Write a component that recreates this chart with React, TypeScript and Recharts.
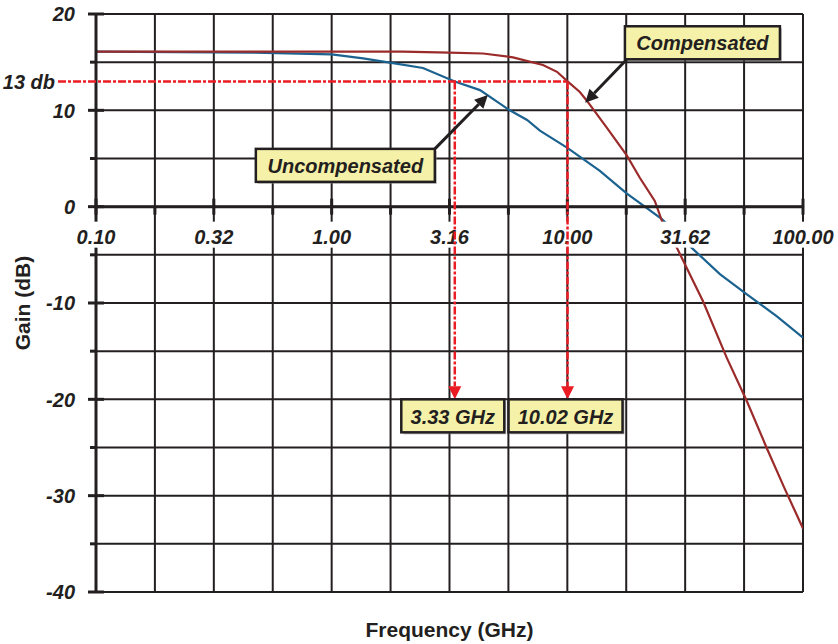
import { LineChart, Line, XAxis, YAxis, CartesianGrid, ReferenceLine, ReferenceDot, Label } from 'recharts'

const INK = '#231f20'
const FONT = '"Liberation Sans", Arial, Helvetica, sans-serif'
const MARK_RED = '#ec1c24'
const BOX_FILL = '#f6f1a8'

// measured gain, frequency in GHz
const compFreq = [0.1, 0.5, 1, 2, 3.16, 4.39, 5.88, 7.88, 9.04, 10.02, 11.3, 12.1, 14.7, 17.9, 20.3, 23.5, 25.4, 29.2, 37.6, 47.5, 57.8, 70.3, 83.7, 100]
const compGain = [16.1, 16.1, 16.1, 16.1, 16.0, 15.9, 15.5, 14.7, 14.0, 13.0, 11.9, 11.0, 8.2, 5.3, 3.0, 0.6, -1.7, -4.3, -9.8, -15.7, -20.2, -25.1, -29.3, -33.4]
const uncompFreq = [0.1, 0.47, 1, 1.36, 1.82, 2.44, 3.33, 4.26, 5.7, 6.75, 7.65, 10, 13.7, 17.9, 25.2, 33.8, 44.4, 57.8, 77.5, 100]
const uncompGain = [16.1, 16.0, 15.8, 15.4, 14.9, 14.4, 13.0, 12.1, 10.0, 9.0, 7.9, 6.1, 3.75, 1.35, -1.3, -4.3, -7.0, -9.1, -11.4, -13.6]

// quarter-decade grid, labels on the half decades
const gridFreqs = [0.1, 0.1778, 0.3162, 0.5623, 1, 1.778, 3.162, 5.623, 10, 17.78, 31.62, 56.23, 100]
const freqLabels = ['0.10', '', '0.32', '', '1.00', '', '3.16', '', '10.00', '', '31.62', '', '100.00']
const gainTicks = [-40, -35, -30, -25, -20, -15, -10, -5, 0, 5, 10, 15, 20]

// 13 dB crossing points
const cutoffGain = 13
const cutoffFreqs = [3.33, 10.02]
const cutoffLabels = ['3.33 GHz', '10.02 GHz']
const cutoffLeaderStart = 0.069

// callouts: [freq, gain] of box corner and arrow tip
const uncompBox = [2.74, 6.0]
const uncompTip = [4.6, 11.6]
const compBox = [17.9, 15.3]
const compTip = [11.9, 10.8]

const compensated = compFreq.map((f, i) => ({ f, gain: compGain[i] }))
const uncompensated = uncompFreq.map((f, i) => ({ f, gain: uncompGain[i] }))

const textStyle = { fontFamily: FONT, fontWeight: 700, fontStyle: 'italic', fontSize: 20, fill: INK }
const titleStyle = { fontFamily: FONT, fontWeight: 700, fontSize: 21, fill: INK }

function GainTick({ x, y, payload }: any) {
  const major = payload.value % 10 === 0
  return (
    <g>
      <line x1={major ? x - 8 : x - 6} x2={major ? x + 8 : x} y1={y} y2={y} stroke={INK} strokeWidth={3} />
      {major && (
        <text x={x - 21} y={y} dy="0.36em" textAnchor="end" style={textStyle}>
          {payload.value}
        </text>
      )}
    </g>
  )
}

function FreqTick({ cx, cy, label }: any) {
  const major = label !== ''
  const w = label.length * 10.5
  return (
    <g>
      <line x1={cx} x2={cx} y1={major ? cy - 8 : cy} y2={cy + 8} stroke={INK} strokeWidth={3} />
      {major && (
        <g>
          <rect x={cx - w / 2} y={cy + 15} width={w} height={26} fill="#fff" />
          <text x={cx} y={cy + 37} textAnchor="middle" style={textStyle}>
            {label}
          </text>
        </g>
      )}
    </g>
  )
}

function Arrow({ x1, y1, x2, y2, color, dash, width }: any) {
  const ang = Math.atan2(y2 - y1, x2 - x1)
  const len = 13
  const half = 6.5
  const bx = x2 - len * Math.cos(ang)
  const by = y2 - len * Math.sin(ang)
  const px = -Math.sin(ang) * half
  const py = Math.cos(ang) * half
  return (
    <g>
      <line x1={x1} y1={y1} x2={bx} y2={by} stroke={color} strokeWidth={width} strokeDasharray={dash} />
      <polygon points={`${x2},${y2} ${bx + px},${by + py} ${bx - px},${by - py}`} fill={color} />
    </g>
  )
}

function Callout({ x, y, w, text }: any) {
  return (
    <g>
      <rect x={x + 2} y={y + 2} width={w} height={33} fill="#8a8a8a" opacity={0.55} />
      <rect x={x} y={y} width={w} height={33} fill={BOX_FILL} stroke={INK} strokeWidth={2.5} />
      <text x={x + w / 2} y={y + 17} dy="0.36em" textAnchor="middle" style={textStyle}>
        {text}
      </text>
    </g>
  )
}

export default function App() {
  return (
    <div style={{ position: 'absolute', left: 0, top: 0, width: 838, height: 644, background: '#fff' }}>
      <LineChart width={838} height={644} margin={{ top: 14, right: 35, bottom: 0, left: 0 }}>
        <CartesianGrid stroke={INK} strokeWidth={2} />
        {gridFreqs.map((f) => (
          <ReferenceLine key={`vg-${f}`} x={f} stroke={INK} strokeWidth={2} zIndex={-90} />
        ))}
        <XAxis
          dataKey="f"
          type="number"
          scale="log"
          domain={[0.1, 100]}
          ticks={gridFreqs}
          allowDataOverflow
          tick={false}
          axisLine={false}
          tickLine={false}
          height={52}
        >
          <Label value="Frequency (GHz)" position="insideBottom" offset={7} style={titleStyle} />
        </XAxis>
        <YAxis
          type="number"
          domain={[-40, 20]}
          ticks={gainTicks}
          interval={0}
          width={96}
          tickSize={0}
          tickMargin={0}
          tickLine={false}
          axisLine={{ stroke: INK, strokeWidth: 3 }}
          tick={<GainTick />}
        >
          <Label
            content={({ viewBox }: any) => {
              const cy = viewBox.y + viewBox.height / 2
              return (
                <text
                  x={22}
                  y={cy}
                  transform={`rotate(-90 22 ${cy})`}
                  textAnchor="middle"
                  dy="0.36em"
                  style={titleStyle}
                >
                  Gain (dB)
                </text>
              )
            }}
          />
        </YAxis>

        <Line data={uncompensated} dataKey="gain" stroke="#1c6290" strokeWidth={2.2} dot={false} isAnimationActive={false} />
        <Line data={compensated} dataKey="gain" stroke="#9b2b2b" strokeWidth={2.2} dot={false} isAnimationActive={false} />

        {gridFreqs.map((f, i) => (
          <ReferenceDot
            key={`ft-${f}`}
            x={f}
            y={0}
            r={0}
            ifOverflow="visible"
            zIndex={650}
            shape={(p: any) => <FreqTick cx={p.cx} cy={p.cy} label={freqLabels[i]} />}
          />
        ))}
        <ReferenceLine y={0} stroke={INK} strokeWidth={3} zIndex={660} />

        <ReferenceLine
          segment={[{ x: cutoffLeaderStart, y: cutoffGain }, { x: cutoffFreqs[1], y: cutoffGain }]}
          ifOverflow="visible"
          zIndex={800}
          shape={(p: any) => (
            <g>
              <line x1={p.x1} y1={p.y1} x2={p.x2} y2={p.y2} stroke={MARK_RED} strokeWidth={2.5} strokeDasharray="8 2 3 2" />
              <text x={p.x1 - 3} y={p.y1} dy="0.36em" textAnchor="end" style={textStyle}>
                {cutoffGain} db
              </text>
            </g>
          )}
        />
        {cutoffFreqs.map((f) => (
          <ReferenceLine
            key={`cut-${f}`}
            segment={[{ x: f, y: cutoffGain }, { x: f, y: -20 }]}
            ifOverflow="visible"
            zIndex={800}
            shape={(p: any) => <Arrow {...p} color={MARK_RED} width={2.5} dash="8 2 3 2" />}
          />
        ))}
        {cutoffFreqs.map((f, i) => (
          <ReferenceDot
            key={`cl-${f}`}
            x={f}
            y={-20}
            r={0}
            ifOverflow="visible"
            zIndex={900}
            shape={(p: any) => {
              const w = i === 0 ? 103 : 114
              return <Callout x={p.cx - w / 2 - 2} y={p.cy} w={w} text={cutoffLabels[i]} />
            }}
          />
        ))}

        <ReferenceLine
          segment={[{ x: uncompBox[0], y: uncompBox[1] }, { x: uncompTip[0], y: uncompTip[1] }]}
          ifOverflow="visible"
          zIndex={900}
          shape={(p: any) => <Arrow {...p} color={INK} width={3} />}
        />
        <ReferenceDot
          x={uncompBox[0]}
          y={uncompBox[1]}
          r={0}
          ifOverflow="visible"
          zIndex={900}
          shape={(p: any) => <Callout x={p.cx - 179} y={p.cy} w={179} text="Uncompensated" />}
        />
        <ReferenceLine
          segment={[{ x: compBox[0], y: compBox[1] }, { x: compTip[0], y: compTip[1] }]}
          ifOverflow="visible"
          zIndex={900}
          shape={(p: any) => <Arrow {...p} color={INK} width={3} />}
        />
        <ReferenceDot
          x={compBox[0]}
          y={compBox[1]}
          r={0}
          ifOverflow="visible"
          zIndex={900}
          shape={(p: any) => <Callout x={p.cx - 2} y={p.cy - 33} w={155} text="Compensated" />}
        />
      </LineChart>
    </div>
  )
}
